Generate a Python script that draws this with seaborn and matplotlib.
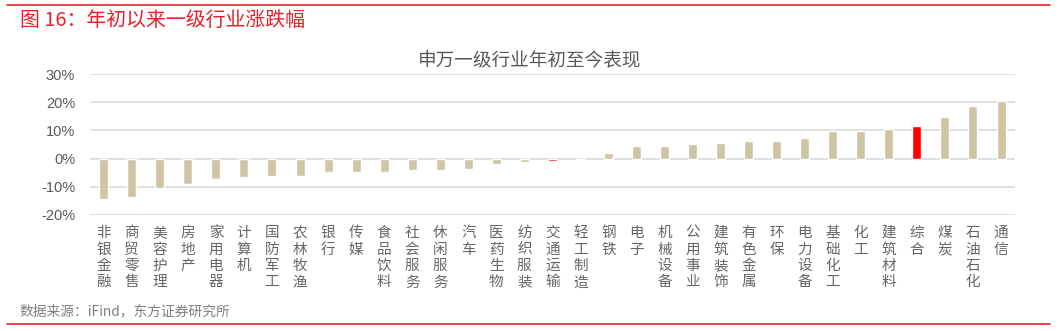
import matplotlib
matplotlib.use("Agg")
import matplotlib.pyplot as plt
import seaborn as sns
import pandas as pd

categories = ["非银金融", "商贸零售", "美容护理", "房地产", "家用电器", "计算机", "国防军工", "农林牧渔",
              "银行", "传媒", "食品饮料", "社会服务", "休闲服务", "汽车", "医药生物", "纺织服装",
              "交通运输", "轻工制造", "钢铁", "电子", "机械设备", "公用事业", "建筑装饰", "有色金属",
              "环保", "电力设备", "基础化工", "化工", "建筑材料", "综合", "煤炭", "石油石化", "通信"]
values = [-14.4, -13.5, -10.3, -8.9, -7.3, -6.4, -6.1, -6.0,
          -4.8, -4.7, -4.6, -3.9, -3.9, -3.7, -2.0, -1.1,
          -0.7, -0.2, 2.1, 4.4, 4.5, 5.3, 5.6, 6.3,
          6.4, 7.4, 9.7, 9.7, 10.6, 11.7, 14.8, 18.8, 20.4]
highlight = ["交通运输", "综合"]
yticks = [-20, -10, 0, 10, 20, 30]

sns.set_theme(style="white")
plt.rcParams['font.family'] = ['Noto Sans CJK SC', 'DejaVu Sans']

df = pd.DataFrame({"cat": categories, "val": values})
df["grp"] = ["hl" if c in highlight else "base" for c in categories]
palette = {"base": "#CFC5A5", "hl": "#FF0000"}

fig = plt.figure(figsize=(10.58, 3.31), dpi=100)
ax = fig.add_axes([0.0848, 0.3505, 0.9594 - 0.0848, 0.7764 - 0.3505])
sns.barplot(data=df, x="cat", y="val", hue="grp", palette=palette, dodge=False,
            width=0.32, legend=False, ax=ax, saturation=1)
ax.set_ylim(-20, 30)
ax.set_xlim(-0.5, len(categories) - 0.5)
ax.set_yticks(yticks)
ax.set_yticklabels([f"{t}%" for t in yticks], color="#595959", fontsize=10.5,
                   family=["Liberation Sans", "DejaVu Sans"])
ax.yaxis.grid(True, color="#D9D9D9", linewidth=1.2)
ax.set_axisbelow(True)
for s in ax.spines.values():
    s.set_visible(False)
ax.tick_params(axis="both", length=0)
ax.tick_params(axis="y", pad=10.5)
ax.set_xlabel("")
ax.set_ylabel("")
ax.set_xticks(range(len(categories)))
ax.set_xticklabels(["\n".join(c) for c in categories], color="#666666", fontsize=10.5,
                   va="top", linespacing=1.22)
ax.tick_params(axis="x", pad=8)

fig.text(530 / 1058, 1 - 60 / 331, "申万一级行业年初至今表现", ha="center", va="center",
         fontsize=13.4, color="#595959")
fig.text(20 / 1058, 1 - 20 / 331, "图 16：年初以来一级行业涨跌幅", ha="left", va="center",
         fontsize=14.3, color="#E8202A")
fig.text(20 / 1058, 1 - 311 / 331, "数据来源：iFind，东方证券研究所", ha="left", va="center",
         fontsize=9.9, color="#7F7F7F")
fig.add_artist(plt.Line2D([7 / 1058, 1050 / 1058], [1 - 5 / 331, 1 - 5 / 331], color="#E8202A", linewidth=1.2))
fig.add_artist(plt.Line2D([7 / 1058, 1050 / 1058], [1 - 324 / 331, 1 - 324 / 331], color="#E8202A", linewidth=1.2))

fig.savefig("out.png", dpi=100)
